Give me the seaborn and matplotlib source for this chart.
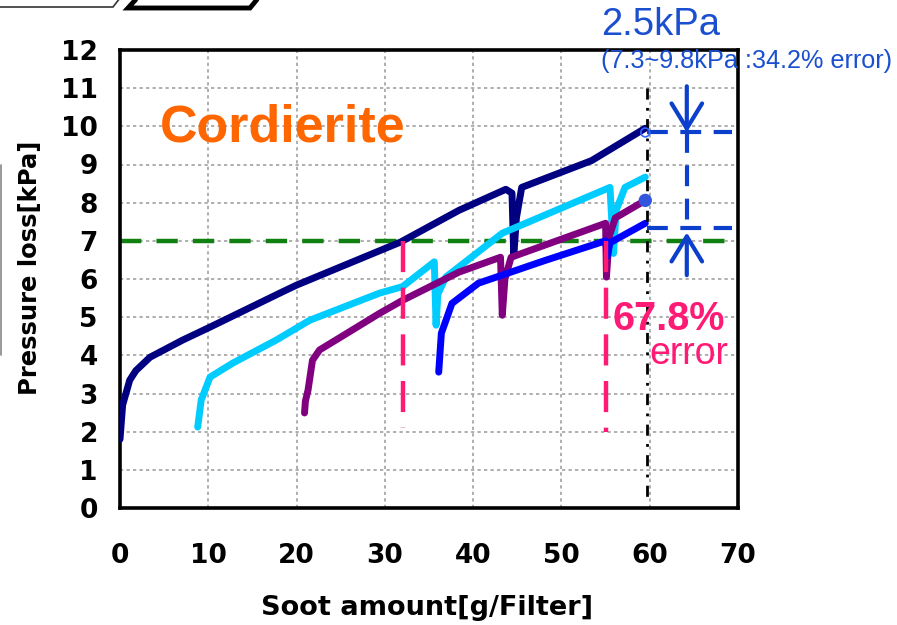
import numpy as np
import pandas as pd
import matplotlib
matplotlib.use("Agg")
import matplotlib.pyplot as plt
from matplotlib.patches import Polygon
from matplotlib.lines import Line2D
import seaborn as sns

# ---------------- data ----------------
navy_x = [0.0, 0.3, 1.1, 1.8, 3.4, 7.1, 10.2, 18.1, 20.0, 31.8, 38.4, 43.7, 44.4, 44.6, 44.9, 45.5, 53.4, 59.5]
navy_y = [1.8, 2.7, 3.35, 3.6, 3.95, 4.4, 4.74, 5.63, 5.84, 6.97, 7.8, 8.35, 8.25, 6.6, 7.6, 8.4, 9.1, 9.95]

cyan_x = [8.8, 9.2, 10.2, 12.8, 17.7, 21.5, 29.4, 32.0, 35.6, 35.8, 36.0, 36.9, 43.3, 55.5, 55.9, 56.2, 57.2, 59.5]
cyan_y = [2.12, 2.83, 3.43, 3.8, 4.4, 4.92, 5.63, 5.8, 6.45, 4.79, 5.6, 6.05, 7.2, 8.4, 6.67, 7.8, 8.4, 8.67]

purple_x = [20.9, 21.0, 21.3, 21.8, 22.6, 24.8, 29.4, 32.0, 38.4, 43.1, 43.3, 43.6, 44.3, 55.0, 55.1, 55.4, 56.1, 59.5]
purple_y = [2.49, 2.8, 3.09, 3.87, 4.14, 4.45, 5.1, 5.44, 6.18, 6.57, 5.05, 6.0, 6.57, 7.46, 6.05, 7.1, 7.6, 8.06]

blue_x = [36.1, 36.4, 37.6, 40.6, 48.2, 55.0, 55.2, 55.5, 59.5]
blue_y = [3.56, 4.58, 5.36, 5.89, 6.49, 7.0, 6.6, 6.95, 7.46]

series_names = ["navy", "cyan", "purple", "blue"]
series_colors = ["#000080", "#00CCFF", "#800080", "#0000FF"]

x_ticks = [0, 10, 20, 30, 40, 50, 60, 70]
y_ticks = [0, 1, 2, 3, 4, 5, 6, 7, 8, 9, 10, 11, 12]

threshold = 7.0
cross_x = [32.0, 55.0]          # soot amounts where curves reach the 7 kPa limit
cross_bottom = [2.1, 2.0]
limit_x = 59.7                  # 60 g/Filter limit line
range_low, range_high = 7.33, 9.84
end_marker_x = [59.5, 59.5]
end_marker_y = [9.84, 8.06]

# ---------------- figure ----------------
W, H = 897, 625
sns.set_style("white")
plt.rcParams["font.family"] = ["DejaVu Sans"]
plt.rcParams["text.color"] = "black"
fig = plt.figure(figsize=(W / 100, H / 100), dpi=100)

def fx(px):
    return px / W

def fy(py):
    return 1 - py / H

ax = fig.add_axes([fx(120), fy(508), fx(738) - fx(120), fy(50) - fy(508)])

frames = []
for name, xs, ys in [("navy", navy_x, navy_y), ("cyan", cyan_x, cyan_y),
                     ("purple", purple_x, purple_y), ("blue", blue_x, blue_y)]:
    frames.append(pd.DataFrame({"soot": xs, "dp": ys, "series": name}))
df = pd.concat(frames, ignore_index=True)

ax.set_xlim(0, 70)
ax.set_ylim(0, 12)
ax.set_xticks(x_ticks)
ax.set_yticks(y_ticks)
ax.grid(True, color="#a8a8a8", linestyle=(0, (1.8, 1.8)), linewidth=1.3)
ax.set_axisbelow(True)

# threshold line
ax.axhline(threshold, color="#108010", lw=3.2, linestyle=(0, (4.8, 3.4)), zorder=2)

sns.lineplot(data=df, x="soot", y="dp", hue="series", hue_order=series_names,
             palette=dict(zip(series_names, series_colors)), estimator=None,
             sort=False, units="series", lw=5.0, legend=False, ax=ax, zorder=3)

# pink vertical dashed lines at crossing points
for cx, cb in zip(cross_x, cross_bottom):
    ax.plot([cx, cx], [threshold, cb], color="#FF1A75", lw=3.2,
            linestyle=(0, (7.0, 3.5)), zorder=4)

# black dash-dot limit line
ax.plot([limit_x, limit_x], [11.0, 0.2], color="black", lw=2.0,
        linestyle=(0, (4, 3, 1, 3)), zorder=4)

# blue range markers
blue_ann = "#0B3FCC"
ax.plot([limit_x, 69.3], [range_high, range_high], color=blue_ann, lw=3.0,
        linestyle=(0, (5, 3)), zorder=4)
ax.plot([limit_x, 69.3], [range_low, range_low], color=blue_ann, lw=3.0,
        linestyle=(0, (5, 3)), zorder=4)
ax.plot([64.2, 64.2], [range_high, range_low], color=blue_ann, lw=3.0,
        linestyle=(0, (5, 3)), zorder=4)
ax.annotate("", xy=(64.2, range_high), xytext=(64.2, 11.05),
            arrowprops=dict(arrowstyle="->,head_width=0.55,head_length=0.9",
                            color=blue_ann, lw=3.0, mutation_scale=20,
                            shrinkA=0, shrinkB=0), annotation_clip=False)
ax.annotate("", xy=(64.2, 7.22), xytext=(64.2, 6.1),
            arrowprops=dict(arrowstyle="->,head_width=0.55,head_length=0.9",
                            color=blue_ann, lw=3.0, mutation_scale=20,
                            shrinkA=0, shrinkB=0), annotation_clip=False)
ax.scatter(end_marker_x, end_marker_y, s=[40, 70], facecolors=["none", "#3355DD"],
           edgecolors=["#3366FF", "#3355DD"], linewidths=1.2, zorder=5)

# spines & ticks
for sp in ax.spines.values():
    sp.set_visible(True)
    sp.set_color("black")
    sp.set_linewidth(2.6)
ax.tick_params(axis="both", length=0, labelsize=19, labelcolor="black")
ax.tick_params(axis="x", pad=25)
ax.tick_params(axis="y", pad=16)
for lab in ax.get_xticklabels() + ax.get_yticklabels():
    lab.set_fontweight("bold")
ax.set_xlabel("")
ax.set_ylabel("")

fig.text(fx(427), fy(615), "Soot amount[g/Filter]", ha="center", va="baseline",
         fontsize=19.5, fontweight="bold", color="black")
fig.text(fx(30), fy(268), "Pressure loss[kPa]", ha="center", va="center",
         rotation=90, fontsize=17.5, fontweight="bold", color="black")

# texts
fig.text(fx(160), fy(141), "Cordierite", ha="left", va="baseline",
         fontsize=37.5, fontweight="bold", color="#FF6600", family="Liberation Sans")
fig.text(fx(601), fy(35), "2.5kPa", ha="left", va="baseline",
         fontsize=27.5, color="#1A4FD0", family="Liberation Sans")
fig.text(fx(601), fy(68), "(7.3~9.8kPa :34.2% error)", ha="left", va="baseline",
         fontsize=18.2, color="#1A4FD0", family="Liberation Sans")
fig.text(fx(612), fy(330), "67.8%", ha="left", va="baseline",
         fontsize=28.5, fontweight="bold", color="#FF1A75", family="Liberation Sans")
fig.text(fx(649), fy(364), "error", ha="left", va="baseline",
         fontsize=27, color="#FF1A75", family="Liberation Sans")

# cropped decorations at the image border
fig.add_artist(Polygon([[fx(-5), fy(7)], [fx(113), fy(7)], [fx(120), fy(-2)]],
                       closed=False, fill=False, edgecolor="#333333", lw=1.2,
                       transform=fig.transFigure))
fig.add_artist(Polygon([[fx(138), fy(-3)], [fx(128), fy(8)], [fx(250), fy(8)], [fx(259), fy(-3)]],
                       closed=False, fill=False, edgecolor="black", lw=3.5,
                       transform=fig.transFigure))
fig.add_artist(Line2D([fx(1), fx(1)], [fy(165), fy(355)], color="#888888", lw=1.2,
                      transform=fig.transFigure))

fig.savefig("out.png", dpi=100)
